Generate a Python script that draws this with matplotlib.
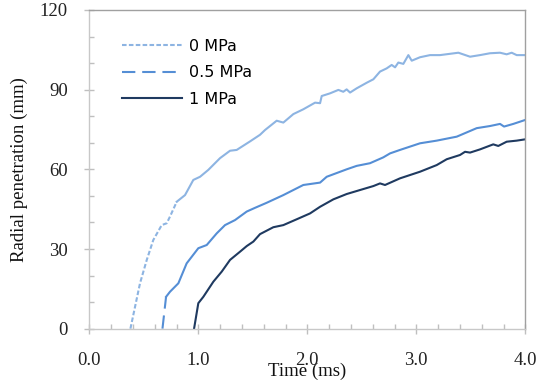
import matplotlib
matplotlib.use("Agg")
import matplotlib.pyplot as plt
from matplotlib.ticker import MultipleLocator, FormatStrFormatter
from matplotlib.lines import Line2D

# Radial penetration (mm) over time (ms)
t_0 = [0.377, 0.465, 0.527, 0.587, 0.664, 0.710, 0.740, 0.802, 0.878, 0.954,
       1.016, 1.092, 1.199, 1.291, 1.352, 1.474, 1.566, 1.612, 1.719, 1.780,
       1.872, 1.963, 2.071, 2.117, 2.132, 2.208, 2.285, 2.330, 2.361, 2.392,
       2.453, 2.545, 2.606, 2.667, 2.728, 2.774, 2.805, 2.835, 2.881, 2.927,
       2.958, 3.034, 3.126, 3.217, 3.386, 3.493, 3.584, 3.676, 3.768, 3.829,
       3.875, 3.921, 4.0]
r_0 = [0.0, 17.1, 25.9, 33.4, 39.0, 39.7, 42.2, 47.8, 50.3, 56.0,
       57.2, 59.8, 64.2, 67.0, 67.3, 70.5, 73.0, 74.8, 78.3, 77.6,
       80.8, 82.6, 85.1, 84.9, 87.6, 88.6, 89.9, 89.2, 90.1, 88.9,
       90.5, 92.6, 93.9, 96.8, 98.0, 99.3, 98.4, 100.2, 99.7, 103.0,
       100.9, 102.2, 103.0, 103.0, 103.9, 102.4, 103.0, 103.7, 103.9, 103.3,
       103.9, 103.0, 103.0]

t_05 = [0.671, 0.704, 0.740, 0.817, 0.893, 1.000, 1.077, 1.169, 1.245, 1.337,
        1.444, 1.520, 1.627, 1.780, 1.963, 2.117, 2.178, 2.361, 2.453, 2.575,
        2.697, 2.759, 2.850, 3.034, 3.187, 3.371, 3.554, 3.676, 3.768, 3.805,
        3.890, 4.0]
r_05 = [0.0, 12.0, 13.9, 17.1, 24.6, 30.3, 31.5, 35.9, 39.0, 40.9,
        44.1, 45.5, 47.4, 50.3, 54.1, 55.0, 57.2, 60.0, 61.3, 62.3,
        64.5, 66.0, 67.3, 69.8, 70.8, 72.3, 75.5, 76.3, 77.1, 76.1,
        77.1, 78.6]

t_1 = [0.961, 1.000, 1.046, 1.138, 1.215, 1.291, 1.383, 1.444, 1.505, 1.566,
       1.688, 1.780, 1.903, 2.025, 2.117, 2.239, 2.361, 2.483, 2.606, 2.667,
       2.713, 2.850, 3.034, 3.187, 3.279, 3.401, 3.447, 3.493, 3.584, 3.706,
       3.752, 3.829, 3.921, 4.0]
r_1 = [0.0, 9.6, 12.0, 17.7, 21.5, 25.9, 29.0, 31.1, 32.8, 35.6,
       38.2, 39.0, 41.2, 43.4, 45.9, 48.7, 50.7, 52.2, 53.7, 54.7,
       54.1, 56.6, 59.1, 61.6, 63.8, 65.4, 66.6, 66.3, 67.5, 69.4,
       68.8, 70.4, 70.8, 71.3]

labels = ["0 MPa", "0.5 MPa", "1 MPa"]
colors = ["#8DB4E2", "#558ED5", "#1F3A60"]
styles = [(0, (2.2, 1.1)), (0, (6.4, 3.3)), "-"]

fig = plt.figure(figsize=(5.46, 3.83), dpi=100)
ax = fig.add_axes([0.1636, 0.1418, 0.7985, 0.8322])

lw = 1.5
# dash pattern shows only on the steep start, the rest reads as solid
n0 = 8
ax.plot(t_0[:n0], r_0[:n0], color=colors[0], lw=lw, ls=styles[0])
ax.plot(t_0[n0 - 1:], r_0[n0 - 1:], color=colors[0], lw=lw)
n05 = 2
ax.plot(t_05[:n05], r_05[:n05], color=colors[1], lw=lw, ls=styles[1])
ax.plot(t_05[n05 - 1:], r_05[n05 - 1:], color=colors[1], lw=lw)
ax.plot(t_1, r_1, color=colors[2], lw=lw)

ax.set_xlim(0, 4)
ax.set_ylim(0, 120)
ax.xaxis.set_major_locator(MultipleLocator(1))
ax.xaxis.set_minor_locator(MultipleLocator(0.2))
ax.yaxis.set_major_locator(MultipleLocator(30))
ax.yaxis.set_minor_locator(MultipleLocator(10))
ax.xaxis.set_major_formatter(FormatStrFormatter("%.1f"))

tick_font = "Liberation Serif"
ax.tick_params(which="major", direction="inout", length=7, width=1, color="#BFBFBF",
               labelsize=13.5, labelcolor="#222222")
ax.tick_params(axis="x", which="major", pad=13)
ax.tick_params(axis="y", which="major", pad=12)
ax.tick_params(which="minor", direction="in", length=3.5, width=1, color="#BFBFBF")
for lab in ax.get_xticklabels() + ax.get_yticklabels():
    lab.set_fontfamily(tick_font)

for side in ["left", "bottom"]:
    ax.spines[side].set_color("#C8C8C8")
for side in ["top", "right"]:
    ax.spines[side].set_color("#A0A0A0")
for sp in ax.spines.values():
    sp.set_linewidth(1)

ax.set_xlabel("Time (ms)", fontfamily=tick_font, fontsize=13.5, color="#111111")
ax.set_ylabel("Radial penetration (mm)", fontfamily=tick_font, fontsize=13.5, color="#111111")
ax.xaxis.set_label_coords(0.5, -0.106)
ax.yaxis.set_label_coords(-0.1406, 0.5)

handles = [Line2D([], [], color=c, lw=lw, ls=s) for c, s in zip(colors, styles)]
ax.legend(handles, labels, loc="upper left", bbox_to_anchor=(0.0743, 0.91),
          frameon=False, borderpad=0, borderaxespad=0, handlelength=3.76,
          handletextpad=0.48, labelspacing=0.73,
          prop={"family": "DejaVu Sans", "size": 11.5})

fig.savefig("out.png", dpi=100)
